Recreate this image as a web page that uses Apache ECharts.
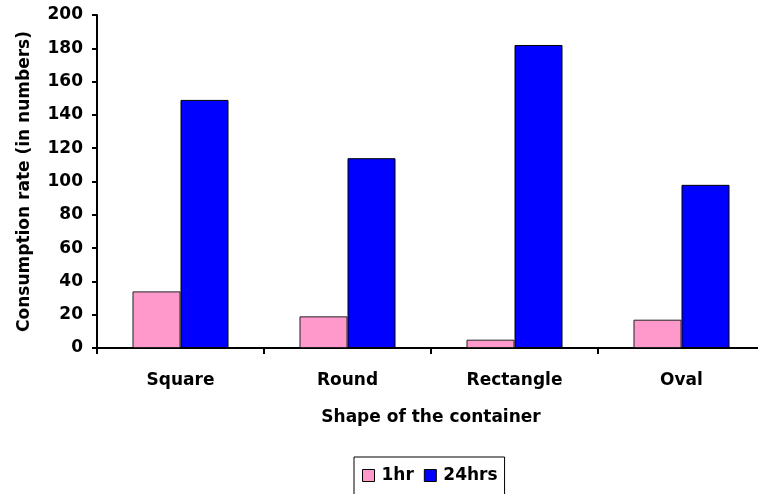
<!DOCTYPE html>
<html><head><meta charset="utf-8">
<script src="https://cdn.jsdelivr.net/npm/echarts@6/dist/echarts.min.js"></script>
<style>html,body{margin:0;padding:0;background:#fff;overflow:hidden;width:758px;height:494px}#c{width:766px;height:494px}</style>
</head><body><div id="c"></div>
<script>
const categories = ['Square', 'Round', 'Rectangle', 'Oval'];
const oneHr = [34, 19, 5, 17];
const twentyFourHrs = [149, 114, 182, 98];
const yTicks = [0, 20, 40, 60, 80, 100, 120, 140, 160, 180, 200];

const font = 'DejaVu Sans';
const fs = 17;
const chart = echarts.init(document.getElementById('c'));
chart.setOption({
  animation: false,
  grid: { left: 97, top: 15, right: 1, bottom: 146, containLabel: false },
  legend: {
    top: 457, left: 354, icon: 'rect',
    itemWidth: 12, itemHeight: 12, itemGap: 10,
    borderColor: '#000', borderWidth: 1, padding: [10, 7, 12, 8],
    textStyle: { fontFamily: font, fontWeight: 'bold', fontSize: fs, color: '#000', padding: [0, 0, 0, 2] },
    data: [
      { name: '1hr', itemStyle: { borderColor: '#000', borderWidth: 1 } },
      { name: '24hrs', itemStyle: { borderColor: '#000', borderWidth: 1 } }
    ]
  },
  xAxis: {
    type: 'category', data: categories,
    name: 'Shape of the container', nameLocation: 'middle', nameGap: 61,
    nameTextStyle: { fontFamily: font, fontWeight: 'bold', fontSize: fs, color: '#000' },
    axisLine: { lineStyle: { color: '#000', width: 2 } },
    axisTick: { show: true, length: 6, lineStyle: { color: '#000', width: 2 } },
    axisLabel: { margin: 24, fontFamily: font, fontWeight: 'bold', fontSize: fs, color: '#000' }
  },
  yAxis: {
    type: 'value', min: 0, max: 200, interval: 20,
    name: 'Consumption rate (in numbers)', nameLocation: 'middle', nameGap: 64,
    nameTextStyle: { fontFamily: font, fontWeight: 'bold', fontSize: fs, color: '#000' },
    axisLine: { show: true, lineStyle: { color: '#000', width: 2 } },
    axisTick: { show: true, length: 5, lineStyle: { color: '#000', width: 2 } },
    splitLine: { show: false },
    axisLabel: { margin: 14, fontFamily: font, fontWeight: 'bold', fontSize: fs, color: '#000',
      formatter: v => yTicks.includes(v) ? String(v) : '' }
  },
  series: [
    { name: '1hr', type: 'bar', data: oneHr, barGap: '0%', barCategoryGap: '42.5%',
      itemStyle: { color: '#FF99CC', borderColor: '#222', borderWidth: 1 } },
    { name: '24hrs', type: 'bar', data: twentyFourHrs, barGap: '0%', barCategoryGap: '42.5%',
      itemStyle: { color: '#0000FF', borderColor: '#000', borderWidth: 1 } }
  ]
});
</script></body></html>
